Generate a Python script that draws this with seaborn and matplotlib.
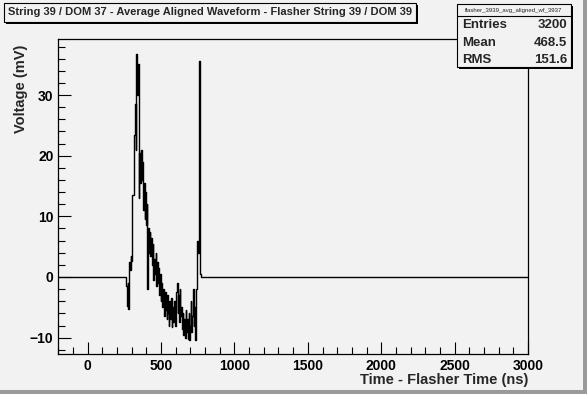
import numpy as np
import pandas as pd
import matplotlib
matplotlib.use("Agg")
import matplotlib.pyplot as plt
from matplotlib.patches import Rectangle
from matplotlib.ticker import MultipleLocator
import seaborn as sns

# waveform samples (mV) every 5 ns starting at 255 ns; zero elsewhere
t_start = 255
t_step = 5
voltage = [
    0.0, 0.0, -1.5, -4.8, -1.0, -5.2, 2.5, 1.2, 3.4, 2.6,
    13.6, 13.6, 13.6, 23.4, 28.5, 21.0, 36.7, 30.0, 35.2, 13.0,
    20.5, 15.5, 21.0, 16.0, 19.0, 11.0, 15.5, 9.5, 14.0, 8.5,
    12.0, -2.0, 8.0, 4.0, 7.5, 3.5, 6.5, 2.0, 5.5, -0.5,
    3.0, 0.5, 4.0, -1.5, 2.5, -1.0, 1.5, -3.0, 0.5, -4.0,
    -1.0, -5.0, -2.0, -3.5, -6.5, -2.5, -5.5, -7.0, -3.0, -6.0,
    -8.0, -4.0, -7.0, -3.5, -8.2, -5.0, -7.5, -4.0, -6.5, -8.0,
    -2.5, -1.0, -6.0, -3.0, -7.5, -2.0, -6.5, -5.0, -8.5, -6.0,
    -9.5, -7.0, -10.0, -5.5, -9.0, -7.0, -10.2, -6.0, -10.4, -8.0,
    -4.0, -9.0, -6.5, -2.0, -8.0, -5.0, -10.4, -2.0, 2.5, 6.0,
    4.0, 35.6, 35.0, 0.5, 0.0,
]
x_range = (-200, 3000)

title = "String 39 / DOM 37 - Average Aligned Waveform - Flasher String 39 / DOM 39"
hist_name = "flasher_3939_avg_aligned_wf_3937"
stats = [("Entries", "3200"), ("Mean", "468.5"), ("RMS", "151.6")]

t = t_start + t_step * np.arange(len(voltage))
df = pd.DataFrame({
    "time": np.concatenate([[x_range[0]], t, [x_range[1]]]),
    "mV": np.concatenate([[0.0], voltage, [0.0]]),
})

sns.set_style("ticks")
plt.rcParams["font.family"] = ["Liberation Sans", "DejaVu Sans"]
bg = "#f2f2f2"

fig = plt.figure(figsize=(5.87, 3.94), dpi=100, facecolor=bg)
ax = fig.add_axes([0.0993, 0.1015, 0.8002, 0.7988], facecolor=bg)

sns.lineplot(data=df, x="time", y="mV", color="black", lw=1.0,
             drawstyle="steps-mid", ax=ax)

ax.set_xlim(*x_range)
ax.set_ylim(-12.7, 39.2)
ax.xaxis.set_major_locator(MultipleLocator(500))
ax.xaxis.set_minor_locator(MultipleLocator(100))
ax.yaxis.set_major_locator(MultipleLocator(10))
ax.yaxis.set_minor_locator(MultipleLocator(2))
ax.tick_params(which="both", direction="in", width=0.8, colors="black",
               top=False, right=False, labelsize=10, pad=3.4)
ax.tick_params(which="major", length=9)
ax.tick_params(which="minor", length=5)
for lab in ax.get_xticklabels() + ax.get_yticklabels():
    lab.set_fontweight("bold")
for sp in ax.spines.values():
    sp.set_visible(True)
    sp.set_linewidth(0.9)
    sp.set_color("black")

ax.set_xlabel("Time - Flasher Time (ns)", fontsize=10.5, fontweight="bold",
              ha="right")
ax.xaxis.set_label_coords(1.0, -0.061)
ax.set_ylabel("Voltage (mV)", fontsize=10.5, fontweight="bold", ha="right")
ax.yaxis.set_label_coords(-0.064, 0.982)

W, H = 587.0, 394.0


def box(x0, y0, x1, y1, z=5):
    # box in pixel coords (top-left origin) with a ROOT-like drop shadow
    fig.patches.append(Rectangle((x0 / W + 2 / W, 1 - (y1 + 2) / H),
                                 (x1 - x0) / W, (y1 - y0) / H,
                                 transform=fig.transFigure, facecolor="black",
                                 edgecolor="none", zorder=z))
    fig.patches.append(Rectangle((x0 / W, 1 - y1 / H), (x1 - x0) / W,
                                 (y1 - y0) / H, transform=fig.transFigure,
                                 facecolor=bg, edgecolor="black", lw=0.8,
                                 zorder=z + 1))


# title box
box(3.5, 2.5, 415.5, 21.5)
fig.text(209.5 / W, 1 - 12 / H, title, ha="center", va="center",
         fontsize=8, fontweight="bold", zorder=10)

# stats box
box(456.5, 4.5, 570.5, 66.5)
fig.add_artist(plt.Line2D([456.5 / W, 570.5 / W], [1 - 16 / H, 1 - 16 / H],
                          color="black", lw=0.8, zorder=10))
fig.text(513.5 / W, 1 - 10.3 / H, hist_name, ha="center", va="center",
         fontsize=4.3, zorder=10)
for i, (name, val) in enumerate(stats):
    yy = 1 - (25 + 17.6 * i) / H
    fig.text(462 / W, yy, name, ha="left", va="center", fontsize=9.5,
             fontweight="bold", zorder=10)
    fig.text(567 / W, yy, val, ha="right", va="center", fontsize=9.5,
             fontweight="bold", zorder=10)

# canvas bevel on the right and bottom
fig.patches.append(Rectangle((1 - 4 / W, 0), 4 / W, 1, transform=fig.transFigure,
                             facecolor="#9a9a9a", edgecolor="none", zorder=20))
fig.patches.append(Rectangle((0, 0), 1, 4 / H, transform=fig.transFigure,
                             facecolor="#9a9a9a", edgecolor="none", zorder=20))

fig.savefig("out.png", dpi=100, facecolor=bg)
